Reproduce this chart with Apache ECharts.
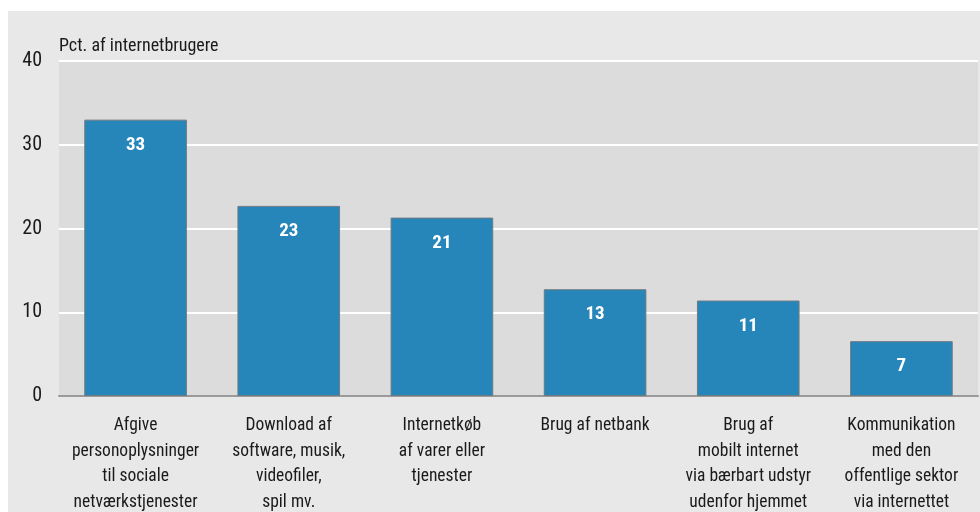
<!DOCTYPE html>
<html><head><meta charset="utf-8">
<script src="https://cdn.jsdelivr.net/npm/echarts@6/dist/echarts.min.js"></script>
<style>html,body{margin:0;padding:0;background:#fff}#c{width:980px;height:512px}</style>
</head><body><div id="c"></div>
<script>
const categories = [
  "Afgive\npersonoplysninger\ntil sociale\nnetværkstjenester",
  "Download af\nsoftware, musik,\nvideofiler,\nspil mv.",
  "Internetkøb\naf varer eller\ntjenester",
  "Brug af netbank",
  "Brug af\nmobilt internet\nvia bærbart udstyr\nudenfor hjemmet",
  "Kommunikation\nmed den\noffentlige sektor\nvia internettet"
];
const values = [33.0, 22.7, 21.3, 12.75, 11.4, 6.55];
const yTicks = [0, 10, 20, 30, 40];
const unitLabel = "Pct. af internetbrugere";

const FONT = "'Roboto Condensed', 'Liberation Sans', sans-serif";
const chart = echarts.init(document.getElementById('c'), null, {renderer: 'canvas'});
chart.setOption({
  backgroundColor: '#ffffff',
  animation: false,
  graphic: [
    {type: 'rect', shape: {x: 8, y: 11, width: 972, height: 501}, style: {fill: '#e8e8e8'}, z: -10, silent: true},
    {type: 'text', left: 59, top: 37, style: {text: unitLabel, font: "18px " + FONT, fill: '#1a1a1a'}}
  ],
  grid: {left: 59, right: 2, top: 61, bottom: 116, show: true, backgroundColor: '#dcdcdc', borderWidth: 0,
    outerBoundsMode: 'none', containLabel: false},
  xAxis: {
    type: 'category', data: categories,
    axisTick: {show: false},
    axisLine: {lineStyle: {color: '#9a9a9a', width: 2}},
    axisLabel: {interval: 0, color: '#1a1a1a', fontFamily: FONT, fontSize: 17.5, lineHeight: 25.5, margin: 17, verticalAlign: 'top'}
  },
  yAxis: {
    type: 'value', min: yTicks[0], max: yTicks[yTicks.length - 1], interval: 10,
    axisLine: {show: false}, axisTick: {show: false},
    splitLine: {lineStyle: {color: '#ffffff', width: 2}},
    axisLabel: {color: '#1a1a1a', fontFamily: FONT, fontSize: 20, margin: 17}
  },
  series: [{
    type: 'bar', data: values, barWidth: '67%',
    itemStyle: {color: '#2685b9', borderColor: '#6e7a82', borderWidth: 1},
    label: {show: true, position: 'insideTop', distance: 16, color: '#ffffff', fontFamily: FONT, fontSize: 19, fontWeight: 'bold',
      formatter: p => Math.round(p.value)}
  }]
});
</script></body></html>
